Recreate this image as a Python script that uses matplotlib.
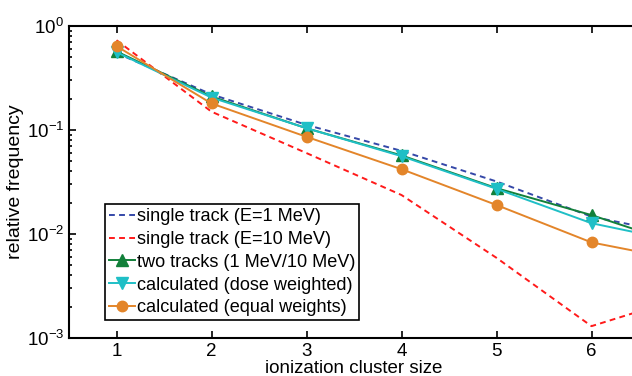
import matplotlib.pyplot as plt
import numpy as np

plt.rcParams['font.family'] = ['Liberation Sans', 'DejaVu Sans']

# cluster sizes and relative frequencies
cluster_size = [1, 2, 3, 4, 5, 6, 7]
single_1mev = [0.55, 0.22, 0.112, 0.063, 0.032, 0.0147, 0.0096]
single_10mev = [0.73, 0.15, 0.06, 0.0237, 0.0059, 0.0013, 0.0025]
two_tracks = [0.57, 0.21, 0.104, 0.057, 0.0276, 0.0152, 0.0076]
calc_dose = [0.56, 0.205, 0.104, 0.056, 0.0272, 0.0127, 0.0082]
calc_equal = [0.64, 0.18, 0.086, 0.042, 0.019, 0.0083, 0.0055]

fig = plt.figure(figsize=(6.32, 3.76), dpi=100)
ax = fig.add_axes([69 / 632, 38 / 376, 570 / 632, 312 / 376])

ax.semilogy(cluster_size, single_1mev, '--', color='#3548a8', lw=1.4, dashes=(3, 2.2),
            label='single track (E=1 MeV)')
ax.semilogy(cluster_size, single_10mev, '--', color='#ff1a1a', lw=1.4, dashes=(3, 2.2),
            label='single track (E=10 MeV)')
ax.semilogy(cluster_size, two_tracks, '-^', color='#12803a', lw=1.4, ms=8,
            label='two tracks (1 MeV/10 MeV)')
ax.semilogy(cluster_size, calc_dose, '-v', color='#1fbfc6', lw=1.4, ms=8,
            label='calculated (dose weighted)')
ax.semilogy(cluster_size, calc_equal, '-o', color='#e3852a', lw=1.4, ms=7.5,
            label='calculated (equal weights)')

ax.set_xlim(0.5, 6.5)
ax.set_ylim(1e-3, 1)
ax.set_xticks([1, 2, 3, 4, 5, 6])
ax.tick_params(which='both', direction='in', top=True, right=True, labelsize=13.5, width=1.2)
ax.tick_params(which='major', length=5)
ax.tick_params(which='minor', length=2.5)
for s in ax.spines.values():
    s.set_linewidth(1.5)

ax.set_xlabel('ionization cluster size', fontsize=13.5, labelpad=0)
ax.set_ylabel('relative frequency', fontsize=14, labelpad=2)

leg = ax.legend(loc='lower left', bbox_to_anchor=(105 / 632, 56 / 376),
                bbox_transform=fig.transFigure, fontsize=13.1, handlelength=1.45,
                handletextpad=0.1, borderpad=0.2, labelspacing=0.32,
                fancybox=False, framealpha=1, edgecolor='black', borderaxespad=0)
leg.get_frame().set_linewidth(1.2)

fig.savefig('out.png', dpi=100)
